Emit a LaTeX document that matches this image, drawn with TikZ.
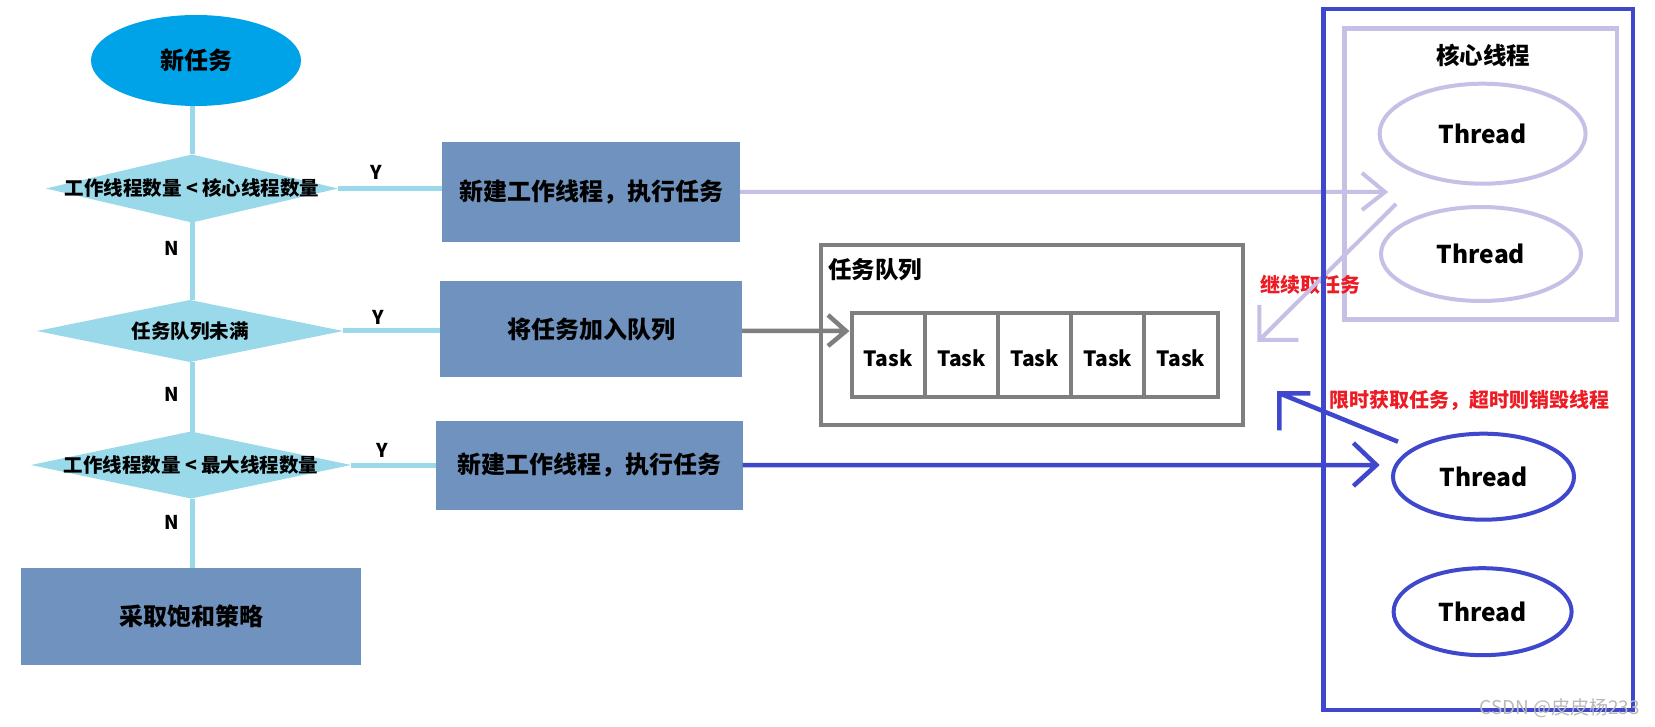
\documentclass[tikz,border=0pt]{standalone}
\usepackage{fontspec}
\setmainfont{Noto Sans CJK SC}
\usetikzlibrary{shapes.geometric}
\definecolor{startblue}{RGB}{0,162,232}
\definecolor{condblue}{RGB}{153,217,234}
\definecolor{procblue}{RGB}{112,146,190}
\definecolor{lav}{RGB}{200,191,231}
\definecolor{royal}{RGB}{63,72,204}
\definecolor{qgray}{RGB}{127,127,127}
\definecolor{alert}{RGB}{237,28,36}
\begin{document}
\begin{tikzpicture}[x=1pt,y=-1pt,
  every node/.style={inner sep=0pt, outer sep=0pt},
  startnode/.style={ellipse, fill=startblue, minimum width=210, minimum height=91, font=\fontsize{24}{28}\selectfont\bfseries},
  cond/.style={diamond, fill=condblue},
  condtext/.style={font=\fontsize{19.5}{24}\selectfont\bfseries},
  proc/.style={rectangle, fill=procblue, font=\fontsize{24}{28}\selectfont\bfseries},
  flow/.style={draw=condblue, line width=5pt},
  yn/.style={font=\fontsize{19}{22}\selectfont\bfseries},
  thread/.style={ellipse, line width=4pt, font=\fontsize{24.5}{30}\selectfont\bfseries},
  cell/.style={rectangle, draw=qgray, line width=4pt, minimum width=73.18, minimum height=84.3},
  tasktext/.style={font=\fontsize{21}{25}\selectfont\bfseries},
  title/.style={font=\fontsize{23.5}{28}\selectfont\bfseries},
  note/.style={text=alert, font=\fontsize{20}{24}\selectfont\bfseries},
  lavarrow/.style={draw=lav, line width=4pt},
  grayarrow/.style={draw=qgray, line width=4.5pt},
  bluearrow/.style={draw=royal, line width=4.5pt}
]
\fill[white] (0,0) rectangle (1655,727);
\useasboundingbox (0,0) rectangle (1655,727);

% ---------- flowchart ----------
\node[startnode] (start) at (196,60.5) {新任务};
\node[cond, minimum width=292, minimum height=68,
  label={[condtext]center:工作线程数量 < 核心线程数量}] (c1) at (192,188.5) {};
\node[cond, minimum width=306, minimum height=62,
  label={[condtext]center:任务队列未满}] (c2) at (190,331) {};
\node[cond, minimum width=320, minimum height=67,
  label={[condtext]center:工作线程数量 < 最大线程数量}] (c3) at (191,465) {};

\node[proc, minimum width=298, minimum height=100] (p1) at (591,192) {新建工作线程，执行任务};
\node[proc, minimum width=302, minimum height=96] (p2) at (591,329) {将任务加入队列};
\node[proc, minimum width=307, minimum height=89] (p3) at (589,465) {新建工作线程，执行任务};
\node[proc, minimum width=340, minimum height=97] (p4) at (191,616) {采取饱和策略};

\draw[flow] (start.south -| c1.north) -- (c1.north);
\draw[flow] (c1.south) -- (c1.south |- c2.north) node[yn, pos=.34, left=13] {N};
\draw[flow] (c2.south -| c1.south) -- (c3.north -| c1.south) node[yn, pos=.47, left=13] {N};
\draw[flow] (c3.south -| c1.south) -- (p4.north -| c1.south) node[yn, pos=.34, left=13] {N};

\draw[flow] (c1.east) -- (c1.east -| p1.west) node[yn, pos=.37, above=9] {Y};
\draw[flow] (c2.east) -- (c2.east -| p2.west) node[yn, pos=.36, above=6] {Y};
\draw[flow] (c3.east) -- (c3.east -| p3.west) node[yn, pos=.37, above=8] {Y};

% ---------- task queue ----------
\node[rectangle, draw=qgray, line width=4pt, minimum width=422.5, minimum height=179] (queue) at (1032.2,335) {};
\node[title, anchor=west] (qtitle) at (828,270) {任务队列};
\foreach \i in {1,...,5}{
  \node[cell] (cell\i) at ({851.6+73.18*(\i-0.5)},354.85) {};
  \node[tasktext] (task\i) at ({851.6+73.18*(\i-0.5)},358) {Task};
}

% ---------- thread pool ----------
\node[rectangle, draw=lav, line width=4.5pt, minimum width=272.5, minimum height=291.25] (core) at (1480.5,173.9) {};
\node[title] (coretitle) at (1483,55) {核心线程};
\node[thread, draw=lav, minimum width=206, minimum height=100] (t1) at (1482.6,133.7) {Thread};
\node[thread, draw=lav, minimum width=200, minimum height=94] (t2) at (1481,254) {Thread};
\node[thread, draw=royal, minimum width=181, minimum height=86] (t3) at (1483.5,476.7) {Thread};
\node[thread, draw=royal, minimum width=178, minimum height=87] (t4) at (1482.6,611.7) {Thread};

% ---------- notes ----------
\node[note] (n1) at (1310.5,285) {继续取任务};
\node[note] (n2) at (1469.5,400) {限时获取任务，超时则销毁线程};

% ---------- arrows ----------
\coordinate (a1tip) at (1385,192);
\draw[lavarrow] (p1.east) -- (a1tip) ++(-23,-19) -- (a1tip) -- ++(-23,18);
\coordinate (a2tip) at (846,331);
\draw[grayarrow] (p2.east |- a2tip) -- (a2tip) ++(-18,-16) -- (a2tip) -- ++(-18,15);
\coordinate (a3tip) at (1376.4,465);
\draw[bluearrow] (p3.east |- a3tip) -- (a3tip) ++(-23,-22) -- (a3tip) -- ++(-23,21);
\coordinate (b1start) at (1396,204);
\coordinate (b1tip) at (1259.4,340);
\draw[lavarrow] (b1start) -- (b1tip) ++(0,-35) -- (b1tip) -- ++(39,0);
\coordinate (b2start) at (1398,441.7);
\coordinate (b2tip) at (1279.4,393.3);
\draw[bluearrow] (b2start) -- (b2tip) ++(0,37) -- (b2tip) -- ++(31,0);

\node[rectangle, draw=royal, line width=4.5pt, minimum width=309.5, minimum height=700.75] (pool) at (1478,359.4) {};

\node[anchor=east, text=gray!55, font=\fontsize{19}{22}\selectfont] (wm) at (1640,708) {CSDN @皮皮杨233};
\end{tikzpicture}
\end{document}
